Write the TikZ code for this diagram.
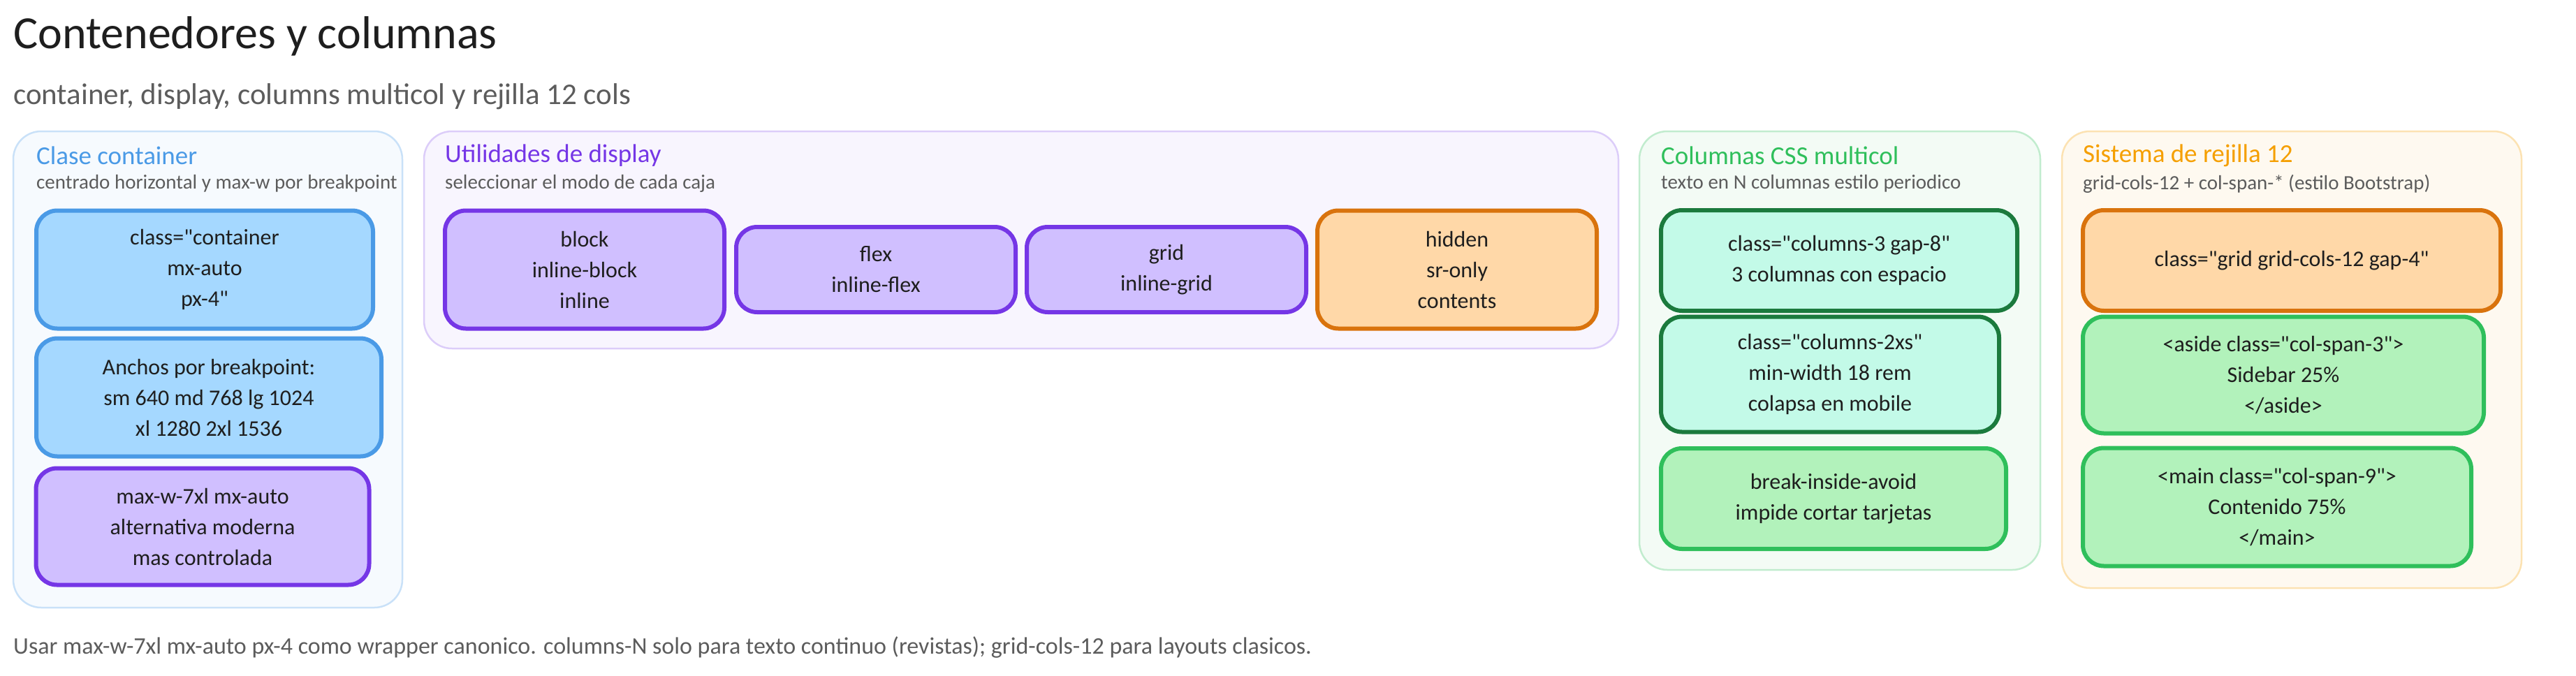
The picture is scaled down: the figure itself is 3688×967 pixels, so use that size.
\documentclass[tikz,border=0pt]{standalone}
\usepackage{fontspec}
\setmainfont{Carlito}[Ligatures=TeXOff]
\usepackage{tikz}
\usetikzlibrary{positioning}

\definecolor{inkc}{HTML}{1E1E1E}
\definecolor{greyc}{HTML}{5C5C5C}
\definecolor{bluec}{HTML}{4A9AE6}
\definecolor{bluef}{HTML}{A5D8FF}
\definecolor{purplec}{HTML}{7536E6}
\definecolor{purplef}{HTML}{D0BFFF}
\definecolor{orangec}{HTML}{D9730D}
\definecolor{orangef}{HTML}{FFD8A8}
\definecolor{mintc}{HTML}{1B7A3D}
\definecolor{mintf}{HTML}{C3FAE8}
\definecolor{greenc}{HTML}{2FBF5B}
\definecolor{greenf}{HTML}{B2F2BB}
\definecolor{yellowc}{HTML}{F59F00}

\tikzset{
  panel/.style={rounded corners=40pt, line width=2.5pt},
  card/.style={rounded corners=30pt, line width=6pt, align=center,
    font=\fontsize{32}{44}\selectfont, text=inkc, inner sep=0pt},
  bluecard/.style={card, draw=bluec, fill=bluef},
  purplecard/.style={card, draw=purplec, fill=purplef},
  orangecard/.style={card, draw=orangec, fill=orangef},
  mintcard/.style={card, draw=mintc, fill=mintf},
  greencard/.style={card, draw=greenc, fill=greenf},
  ptitle/.style={anchor=west, inner sep=0pt, font=\fontsize{37}{40}\selectfont},
  psub/.style={anchor=west, inner sep=0pt, text=greyc, font=\fontsize{29}{32}\selectfont},
}

\begin{document}
\begin{tikzpicture}[x=1pt, y=-1pt]
\useasboundingbox (0,0) rectangle (3688,967);

% Title and subtitle.
\node[anchor=west, inner sep=0pt, text=inkc, font=\fontsize{66}{72}\selectfont] (title) at (19,52) {Contenedores y columnas};
\node[anchor=west, inner sep=0pt, text=greyc, font=\fontsize{43}{48}\selectfont] (subtitle) at (19,138) {container, display, columns multicol y rejilla 12 cols};

% Panels.
\draw[panel, draw=bluec!30, fill=bluec!5] (19,188) rectangle (576,870);
\draw[panel, draw=purplec!25, fill=purplec!5] (607,188) rectangle (2317,499);
\draw[panel, draw=greenc!30, fill=greenc!6] (2347,188) rectangle (2921,816);
\draw[panel, draw=yellowc!30, fill=yellowc!6] (2952,188) rectangle (3610,842);

\node[ptitle, text=bluec] (t1) at (52,223) {Clase container};
\node[psub] (s1) at (52,263) {centrado horizontal y max-w por breakpoint};
\node[ptitle, text=purplec] (t2) at (637,223) {Utilidades de display};
\node[psub] (s2) at (637,263) {seleccionar el modo de cada caja};
\node[ptitle, text=greenc] (t3) at (2378,223) {Columnas CSS multicol};
\node[psub] (s3) at (2378,263) {texto en N columnas estilo periodico};
\node[ptitle, text=yellowc] (t4) at (2982,223) {Sistema de rejilla 12};
\node[psub] (s4) at (2982,263) {grid-cols-12 + col-span-* (estilo Bootstrap)};

% Clase container.
\node[bluecard, minimum width=482pt, minimum height=169pt] (cont) at (293,386) {class="container\\mx-auto\\px-4"};
\node[bluecard, minimum width=494pt, minimum height=169pt] (widths) at (299,569) {Anchos por breakpoint:\\sm 640 md 768 lg 1024\\xl 1280 2xl 1536};
\node[purplecard, minimum width=477pt, minimum height=167pt] (maxw) at (290,754) {max-w-7xl mx-auto\\alternativa moderna\\mas controlada};

% Display.
\node[purplecard, minimum width=400pt, minimum height=169pt] (block) at (837,386) {block\\inline-block\\inline};
\node[purplecard, minimum width=400pt, minimum height=122pt] (flex) at (1254,386) {flex\\inline-flex};
\node[purplecard, minimum width=400pt, minimum height=122pt] (grid) at (1670,386) {grid\\inline-grid};
\node[orangecard, minimum width=400pt, minimum height=169pt] (hidden) at (2086,386) {hidden\\sr-only\\contents};

% Multicol.
\node[mintcard, minimum width=510pt, minimum height=144pt] (cols3) at (2633,373) {class="columns-3 gap-8"\\3 columnas con espacio};
\node[mintcard, minimum width=484pt, minimum height=165pt] (cols2) at (2620,536) {class="columns-2xs"\\min-width 18 rem\\colapsa en mobile};
\node[greencard, minimum width=494pt, minimum height=144pt] (avoid) at (2625,714) {break-inside-avoid\\impide cortar tarjetas};

% Rejilla 12.
\node[orangecard, minimum width=598pt, minimum height=144pt] (gridc) at (3281,373) {class="grid grid-cols-12 gap-4"};
\node[greencard, minimum width=574pt, minimum height=167pt] (aside) at (3269,537) {<aside class="col-span-3">\\Sidebar 25\%\\</aside>};
\node[greencard, minimum width=556pt, minimum height=169pt] (mainc) at (3260,726) {<main class="col-span-9">\\Contenido 75\%\\</main>};

% Footer.
\node[anchor=west, inner sep=0pt, text=greyc, font=\fontsize{34}{38}\selectfont] (foot) at (19,927) {Usar max-w-7xl mx-auto px-4 como wrapper canonico. columns-N solo para texto continuo (revistas); grid-cols-12 para layouts clasicos.};
\end{tikzpicture}
\end{document}
